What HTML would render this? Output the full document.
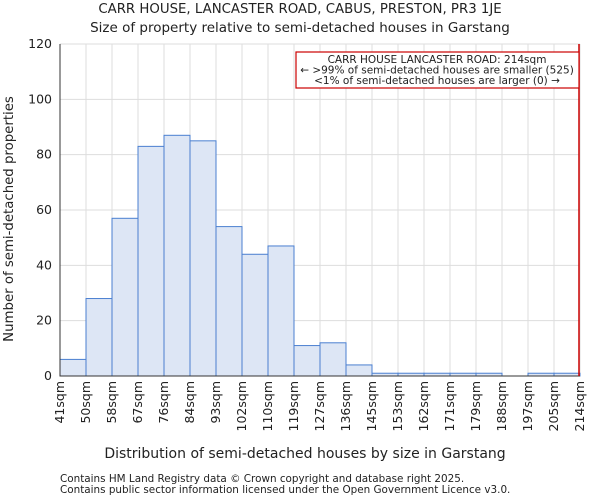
<!DOCTYPE html>
<html><head><meta charset="utf-8"><style>
body{margin:0;background:#fff;font-family:"DejaVu Sans","Liberation Sans",sans-serif;}
svg text{font-family:"DejaVu Sans","Liberation Sans",sans-serif;fill:#222;}
</style></head><body>
<svg id="chart" width="600" height="500">
<text x="300" y="13" font-size="13.3" text-anchor="middle">CARR HOUSE, LANCASTER ROAD, CABUS, PRESTON, PR3 1JE</text>
<text x="300" y="32" font-size="13.5" text-anchor="middle">Size of property relative to semi-detached houses in Garstang</text>
<g id="grid"></g><g id="bars"></g><g id="axes"></g>
<text x="305" y="458" font-size="14" text-anchor="middle">Distribution of semi-detached houses by size in Garstang</text>
<text transform="translate(13,219) rotate(-90)" font-size="13.3" text-anchor="middle">Number of semi-detached properties</text>
<rect x="296" y="52" width="283" height="36" fill="#fff" stroke="#c00" stroke-width="1.2"/>
<text x="437" y="63" font-size="10.5" text-anchor="middle">CARR HOUSE LANCASTER ROAD: 214sqm</text>
<text x="437" y="73.5" font-size="10.5" text-anchor="middle">← &gt;99% of semi-detached houses are smaller (525)</text>
<text x="437" y="84" font-size="10.5" text-anchor="middle">&lt;1% of semi-detached houses are larger (0) →</text>
<text x="60" y="482" font-size="10.4" fill="#555">Contains HM Land Registry data © Crown copyright and database right 2025.</text>
<text x="60" y="493" font-size="10.4" fill="#555">Contains public sector information licensed under the Open Government Licence v3.0.</text>
</svg>
<script>
const categories=["41sqm","50sqm","58sqm","67sqm","76sqm","84sqm","93sqm","102sqm","110sqm","119sqm","127sqm","136sqm","145sqm","153sqm","162sqm","171sqm","179sqm","188sqm","197sqm","205sqm","214sqm"];
const counts=[6,28,57,83,87,85,54,44,47,11,12,4,1,1,1,1,1,0,1,1];
const yTicks=[0,20,40,60,80,100,120];
const markerIndex=20;
const NS="http://www.w3.org/2000/svg";
const X0=60,X1=580,Y0=376,Y1=44,YMAX=120;
const nb=counts.length;
function xs(i){return X0+(X1-X0)*i/nb;}
function ys(v){return Y0-(Y0-Y1)*v/YMAX;}
function mk(t,a,p){const e=document.createElementNS(NS,t);for(const k in a)e.setAttribute(k,a[k]);p.appendChild(e);return e;}
const grid=document.getElementById('grid'),bars=document.getElementById('bars'),axes=document.getElementById('axes');
for(let i=0;i<=nb;i++){const l=mk('line',{x1:xs(i),x2:xs(i),y1:Y1,y2:Y0,stroke:'#ddd'},grid);

}
yTicks.forEach(v=>{const l=mk('line',{x1:X0,x2:X1,y1:ys(v),y2:ys(v),stroke:'#ddd'},grid);


const t=mk('text',{x:X0-8,y:ys(v)+4,'font-size':12.5,'text-anchor':'end'},axes);t.textContent=v;

});
counts.forEach((c,i)=>{const r=mk('rect',{x:xs(i),y:ys(c),width:xs(i+1)-xs(i),height:Y0-ys(c),fill:'#dde6f5',stroke:'#4a7fd0','stroke-width':1},bars);

});
categories.forEach((c,i)=>{const t=mk('text',{transform:`translate(${xs(i)+4},381) rotate(-90)`,'font-size':12.5,'text-anchor':'end'},axes);t.textContent=c;

});
const ax=mk('path',{d:`M${X0},${Y1}V${Y0}H${X1}`,fill:'none',stroke:'#333'},axes);


const m=mk('line',{x1:xs(markerIndex)-1,x2:xs(markerIndex)-1,y1:Y1,y2:Y0,stroke:'#c00','stroke-width':1.5},axes);


</script>
</body></html>
